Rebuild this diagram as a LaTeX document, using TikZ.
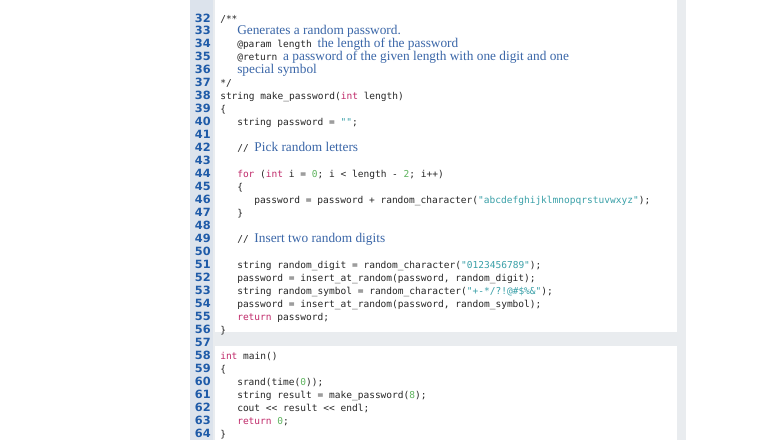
\documentclass[tikz,border=0pt]{standalone}
\usepackage{fontspec}
\setmainfont{Liberation Serif}
\newfontfamily\cdf{DejaVu Sans Mono}
\newfontfamily\lnf{DejaVu Sans}
\definecolor{kwc}{HTML}{C02A6A}
\definecolor{stc}{HTML}{3AA0A8}
\definecolor{nmc}{HTML}{5DB35D}
\definecolor{cmc}{HTML}{3A66A8}
\definecolor{lnc}{HTML}{1F5BA8}
\definecolor{bgc}{HTML}{E9ECEF}
\definecolor{lnbg}{HTML}{DCE3EC}
\newcommand{\kw}[1]{\textcolor{kwc}{#1}}
\newcommand{\st}[1]{\textcolor{stc}{#1}}
\newcommand{\nm}[1]{\textcolor{nmc}{#1}}
\newcommand{\cmt}[1]{{\fontsize{10pt}{11pt}\rmfamily\textcolor{cmc}{#1}}}
\begin{document}
\begin{tikzpicture}[x=0.75pt,y=-0.75pt,
 code/.style={anchor=base west,inner sep=0pt,font=\cdf\fontsize{7.15pt}{8pt}\selectfont,text=black!85},
 lnum/.style={anchor=base east,inner sep=0pt,font=\lnf\bfseries\fontsize{8.5pt}{9pt}\selectfont,text=lnc}]
\useasboundingbox (0,0) rectangle (767,447);
\fill[bgc] (213,0) rectangle (686,440);
\fill[white] (215,0) rectangle (677,332);
\fill[white] (215,346) rectangle (677,440);
\fill[lnbg] (190,0) rectangle (213,440);
\foreach \n in {32,...,64}{
  \node[lnum] (n\n) at (211,{22+(\n-32)*12.97}) {\n};
}
\def\L#1#2#3{\node[code] (c#1) at (#2,{22+(#1-32)*12.97}) {#3};}
\L{32}{220}{/**}
\L{33}{237}{\cmt{Generates a random password.}}
\L{34}{237}{@param length \cmt{the length of the password}}
\L{35}{237}{@return \cmt{a password of the given length with one digit and one}}
\L{36}{237}{\cmt{special symbol}}
\L{37}{220}{*/}
\L{38}{220}{string make\_password(\kw{int} length)}
\L{39}{220}{\{}
\L{40}{237}{string password = \st{""};}
\L{42}{237}{// \cmt{Pick random letters}}
\L{44}{237}{\kw{for} (\kw{int} i = \nm{0}; i < length - \nm{2}; i++)}
\L{45}{237}{\{}
\L{46}{254}{password = password + random\_character(\st{"abcdefghijklmnopqrstuvwxyz"});}
\L{47}{237}{\}}
\L{49}{237}{// \cmt{Insert two random digits}}
\L{51}{237}{string random\_digit = random\_character(\st{"0123456789"});}
\L{52}{237}{password = insert\_at\_random(password, random\_digit);}
\L{53}{237}{string random\_symbol = random\_character(\st{"+-*/?!@\#\$\%\&"});}
\L{54}{237}{password = insert\_at\_random(password, random\_symbol);}
\L{55}{237}{\kw{return} password;}
\L{56}{220}{\}}
\L{58}{220}{\kw{int} main()}
\L{59}{220}{\{}
\L{60}{237}{srand(time(\nm{0}));}
\L{61}{237}{string result = make\_password(\nm{8});}
\L{62}{237}{cout << result << endl;}
\L{63}{237}{\kw{return} \nm{0};}
\L{64}{220}{\}}
\end{tikzpicture}
\end{document}
